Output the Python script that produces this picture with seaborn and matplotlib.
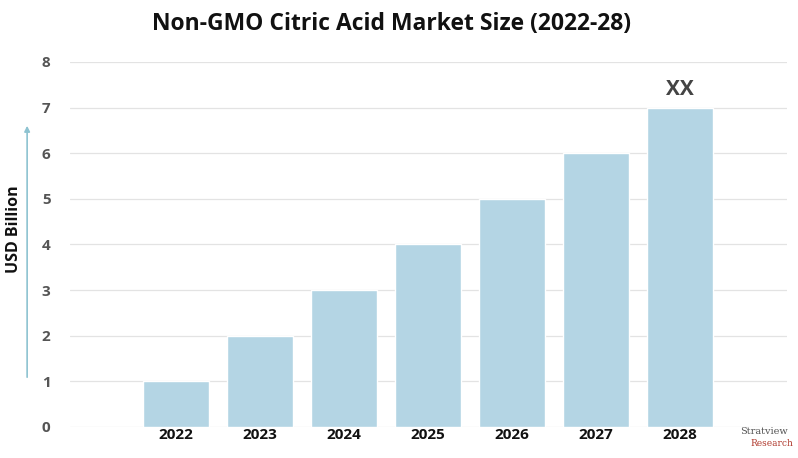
import matplotlib
matplotlib.use("Agg")
import matplotlib.pyplot as plt
import seaborn as sns
import pandas as pd

# Data
years = ["2022", "2023", "2024", "2025", "2026", "2027", "2028"]
values = [1, 2, 3, 4, 5, 6, 7]
y_ticks = [0, 1, 2, 3, 4, 5, 6, 7, 8]

df = pd.DataFrame({"year": years, "value": values})

sns.set_style("white")
plt.rcParams['font.family'] = ['Open Sans', 'DejaVu Sans']

fig = plt.figure(figsize=(7.98, 4.58), dpi=100)
ax = fig.add_axes([0.0877, 0.0677, 0.898, 0.797])

sns.barplot(data=df, x="year", y="value", color="#b4d5e4", saturation=1,
            width=0.786, ax=ax, zorder=3)

ax.set_xlim(-1.26, 7.27)
ax.set_ylim(0, 8)
ax.set_yticks(y_ticks)
ax.yaxis.grid(True, color="#e3e3e3", linewidth=0.9, zorder=0)
ax.set_axisbelow(True)
for s in ax.spines.values():
    s.set_visible(False)
ax.tick_params(axis="both", length=0)
ax.tick_params(axis="y", pad=14, labelsize=11, labelcolor="#555555")
ax.tick_params(axis="x", pad=1, labelsize=11, labelcolor="#111111")
for lbl in ax.get_yticklabels() + ax.get_xticklabels():
    lbl.set_fontweight("bold")
ax.set_xlabel("")
ax.set_ylabel("")

# "XX" label above last bar
ax.text(len(years) - 1, values[-1] + 0.4, "XX", ha="center", va="center",
        fontsize=15, fontweight="bold", color="#444444")

# title
fig.text(0.49, 0.948, "Non-GMO Citric Acid Market Size (2022-28)", ha="center",
         va="center", fontsize=16.5, fontweight="bold", color="#111111")

# y label + arrow
fig.text(0.018, 0.5, "USD Billion", rotation=90, ha="center", va="center",
         fontsize=11.5, fontweight="bold", color="#111111")
fig.patches.append(matplotlib.patches.FancyArrowPatch(
    (0.034, 1 - 380 / 458), (0.034, 1 - 123 / 458), transform=fig.transFigure,
    arrowstyle="-|>", mutation_scale=8, color="#8ec3d1", linewidth=1.2))

# watermark
fig.text(0.957, 0.058, "Stratview", ha="center", va="center", fontsize=7,
         family="DejaVu Serif", color="#555555")
fig.text(0.967, 0.032, "Research", ha="center", va="center", fontsize=6.5,
         family="DejaVu Serif", color="#b03a2e")

fig.savefig("out.png", dpi=100)
